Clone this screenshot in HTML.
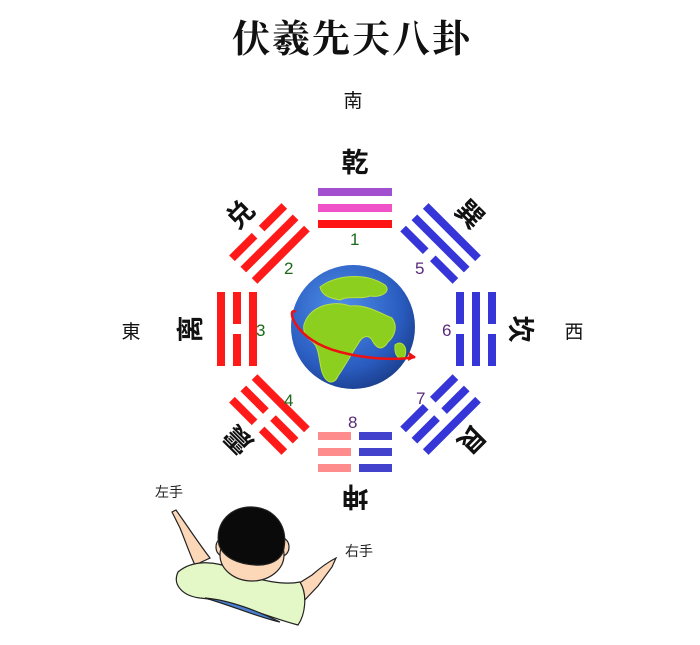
<!DOCTYPE html>
<html><head><meta charset="utf-8"><style>
html,body{margin:0;padding:0;background:#fff;}
svg{display:block;}
text{font-family:"Liberation Sans","Noto Sans CJK SC",sans-serif;}
</style></head><body>
<svg width="700" height="645" viewBox="0 0 700 645" xmlns="http://www.w3.org/2000/svg">
<defs>
<radialGradient id="g" cx="0.4" cy="0.35" r="0.7">
<stop offset="0" stop-color="#4f8fe8"/><stop offset="0.7" stop-color="#2a5cc0"/><stop offset="1" stop-color="#1a3d8a"/>
</radialGradient>
</defs>
<text x="352" y="52" text-anchor="middle" font-size="38" font-weight="bold" style="font-family:'Noto Serif CJK SC',serif" fill="#111" letter-spacing="2">伏羲先天八卦</text>
<text x="353" y="107" text-anchor="middle" font-size="19" fill="#111">南</text>
<text x="131" y="338" text-anchor="middle" font-size="19" fill="#111">東</text>
<text x="574" y="338" text-anchor="middle" font-size="19" fill="#111">西</text>

<g transform="translate(355,329)">
 <g>
  <rect x="-37" y="-141" width="74" height="8" fill="#a24fd0"/>
  <rect x="-37" y="-125" width="74" height="8" fill="#f050c8"/>
  <rect x="-37" y="-109" width="74" height="8" fill="#ff1414"/>
 </g>
 <g transform="rotate(-45)" fill="#ff1a1a">
  <rect x="-37" y="-141" width="32" height="8"/><rect x="5" y="-141" width="32" height="8"/>
  <rect x="-37" y="-125" width="74" height="8"/>
  <rect x="-37" y="-109" width="74" height="8"/>
 </g>
 <g transform="rotate(-90)" fill="#ff1a1a">
  <rect x="-37" y="-138" width="74" height="8"/>
  <rect x="-37" y="-122" width="32" height="8"/><rect x="5" y="-122" width="32" height="8"/>
  <rect x="-37" y="-106" width="74" height="8"/>
 </g>
 <g transform="rotate(-135)" fill="#ff1a1a">
  <rect x="-37" y="-141" width="32" height="8"/><rect x="5" y="-141" width="32" height="8"/>
  <rect x="-37" y="-125" width="32" height="8"/><rect x="5" y="-125" width="32" height="8"/>
  <rect x="-37" y="-109" width="74" height="8"/>
 </g>
 <g transform="rotate(45)" fill="#3535d8">
  <rect x="-37" y="-141" width="74" height="8"/>
  <rect x="-37" y="-125" width="74" height="8"/>
  <rect x="-37" y="-109" width="32" height="8"/><rect x="5" y="-109" width="32" height="8"/>
 </g>
 <g transform="rotate(90)" fill="#3535d8">
  <rect x="-37" y="-141" width="32" height="8"/><rect x="5" y="-141" width="32" height="8"/>
  <rect x="-37" y="-125" width="74" height="8"/>
  <rect x="-37" y="-109" width="32" height="8"/><rect x="5" y="-109" width="32" height="8"/>
 </g>
 <g transform="rotate(135)" fill="#3535d8">
  <rect x="-37" y="-141" width="74" height="8"/>
  <rect x="-37" y="-125" width="32" height="8"/><rect x="5" y="-125" width="32" height="8"/>
  <rect x="-37" y="-109" width="32" height="8"/><rect x="5" y="-109" width="32" height="8"/>
 </g>
</g>
<g>
 <rect x="318" y="432" width="33" height="8" fill="#ff8c8c"/><rect x="359" y="432" width="33" height="8" fill="#4242cc"/>
 <rect x="318" y="448" width="33" height="8" fill="#ff8c8c"/><rect x="359" y="448" width="33" height="8" fill="#4242cc"/>
 <rect x="318" y="464" width="33" height="8" fill="#ff8c8c"/><rect x="359" y="464" width="33" height="8" fill="#4242cc"/>
</g>

<g font-size="27" font-weight="bold" fill="#111" text-anchor="middle">
 <text x="355" y="172">乾</text>
 <text transform="translate(240,214) rotate(-45)" y="10">兑</text>
 <text transform="translate(190,329) rotate(-90)" y="10">离</text>
 <text transform="translate(238,440) rotate(-135)" y="10">震</text>
 <text transform="translate(470,214) rotate(45)" y="10">巽</text>
 <text transform="translate(521,329) rotate(90)" y="10">坎</text>
 <text transform="translate(472,440) rotate(135)" y="10">艮</text>
 <text transform="translate(355,497) rotate(180)" y="10">坤</text>
</g>

<g font-size="17">
 <text x="350" y="245" fill="#1a6a1a">1</text>
 <text x="284" y="274" fill="#1a6a1a">2</text>
 <text x="256" y="336" fill="#1a6a1a">3</text>
 <text x="284" y="406" fill="#1a6a1a">4</text>
 <text x="415" y="274" fill="#5a2a7a">5</text>
 <text x="442" y="336" fill="#5a2a7a">6</text>
 <text x="416" y="404" fill="#5a2a7a">7</text>
 <text x="348" y="428" fill="#5a2a7a">8</text>
</g>

<circle cx="353" cy="327" r="62" fill="url(#g)"/>
<g fill="#8ccf1e" stroke="#b8e040" stroke-width="1">
 <path d="M320 287 C335 275,365 272,385 285 C392 292,380 298,370 296 C360 300,350 295,340 300 C330 298,322 296,320 287Z"/>
 <path d="M305 322 C312 305,335 300,350 306 C365 304,378 312,392 318 C398 326,395 336,388 342 C382 352,376 348,372 340 C368 334,362 336,358 344 C350 356,345 366,338 376 C334 385,326 384,322 372 C318 358,320 346,310 340 C304 334,302 328,305 322Z"/>
 <path d="M395 345 C400 340,408 345,405 356 C400 362,394 356,395 345Z"/>
</g>
<path d="M296 312 C286 305,292 340,340 352 C370 360,400 360,415 357" fill="none" stroke="#ee1111" stroke-width="2.5"/>
<path d="M409 352 L416 357 L408 361Z" fill="#ee1111"/>

<text x="155" y="497" font-size="14" fill="#222" style="font-family:'Noto Sans CJK SC',sans-serif">左手</text>
<text x="345" y="556" font-size="14" fill="#222" style="font-family:'Noto Sans CJK SC',sans-serif">右手</text>
<g stroke="#222" stroke-width="1.2">
 <path d="M172 512 L180 528 C185 540,190 555,195 565 L210 558 C200 545,190 530,183 520 L176 510Z" fill="#fcd7b8"/>
 <path d="M285 592 L312 575 C320 568,328 562,336 558 L332 567 L318 586 L300 605Z" fill="#fcd7b8"/>
 <path d="M178 572 C192 560,215 560,235 570 C260 582,285 585,300 582 C308 595,305 615,298 625 C270 618,230 600,200 598 C183 596,172 585,178 572Z" fill="#e4f7c6"/>
 <path d="M205 598 C230 600,260 612,280 622 C260 618,230 605,205 598Z" fill="#4a7fd0"/>
 <ellipse cx="223" cy="547" rx="7" ry="9" fill="#fcd7b8"/>
 <ellipse cx="282" cy="547" rx="7" ry="9" fill="#fcd7b8"/>
 <ellipse cx="252" cy="555" rx="32" ry="26" fill="#fcd7b8"/>
 <path d="M219 545 C214 522,232 506,252 507 C274 508,288 525,284 548 C282 560,270 566,255 565 C238 564,224 558,219 545Z" fill="#0a0a0a"/>
</g>
</svg>
</body></html>
